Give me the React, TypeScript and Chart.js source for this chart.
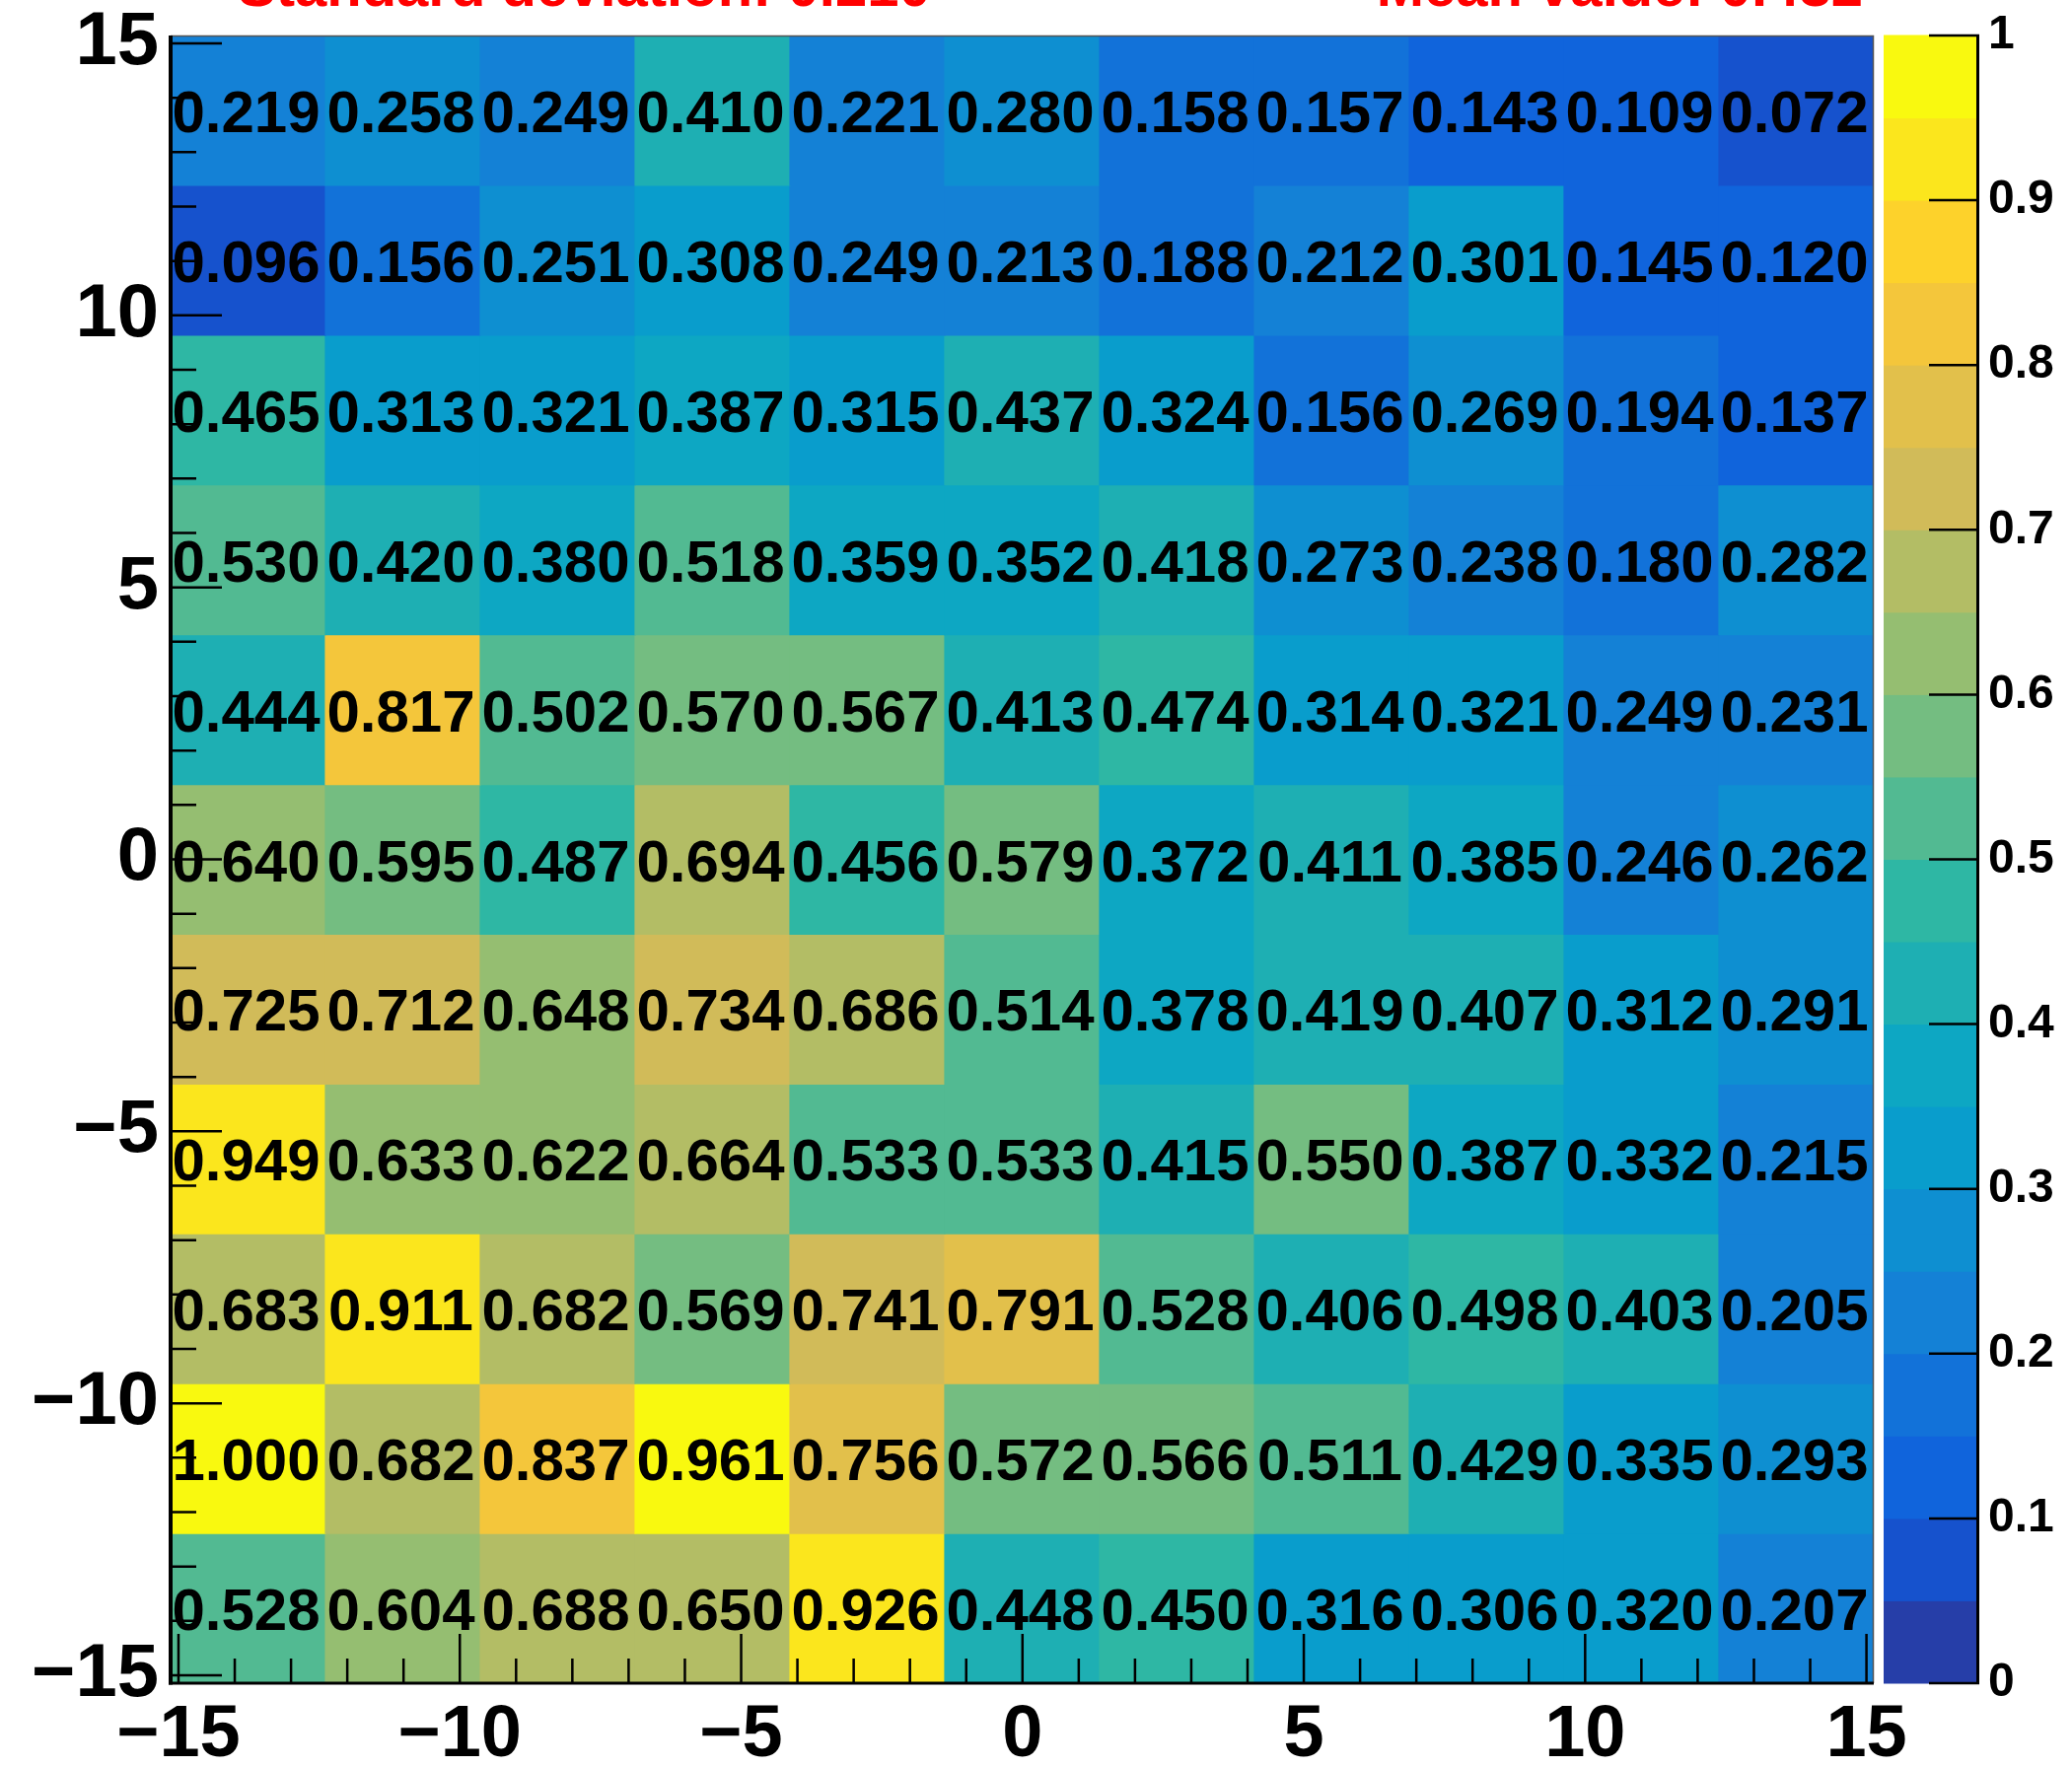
import React, { useEffect, useRef } from 'react';
import { Chart, registerables } from 'chart.js';

Chart.register(...registerables);

// ---------- data ----------
// histogram bin edges (11 bins from -15 to 15) and centres
const binEdges = [-15, -12.2727, -9.5455, -6.8182, -4.0909, -1.3636, 1.3636, 4.0909, 6.8182, 9.5455, 12.2727, 15];
const binCenters = [-13.6364, -10.9091, -8.1818, -5.4545, -2.7273, 0, 2.7273, 5.4545, 8.1818, 10.9091, 13.6364];

// cell values, one array per y bin (top row first)
const yBin10 = [0.219, 0.258, 0.249, 0.410, 0.221, 0.280, 0.158, 0.157, 0.143, 0.109, 0.072];
const yBin9 = [0.096, 0.156, 0.251, 0.308, 0.249, 0.213, 0.188, 0.212, 0.301, 0.145, 0.120];
const yBin8 = [0.465, 0.313, 0.321, 0.387, 0.315, 0.437, 0.324, 0.156, 0.269, 0.194, 0.137];
const yBin7 = [0.530, 0.420, 0.380, 0.518, 0.359, 0.352, 0.418, 0.273, 0.238, 0.180, 0.282];
const yBin6 = [0.444, 0.817, 0.502, 0.570, 0.567, 0.413, 0.474, 0.314, 0.321, 0.249, 0.231];
const yBin5 = [0.640, 0.595, 0.487, 0.694, 0.456, 0.579, 0.372, 0.411, 0.385, 0.246, 0.262];
const yBin4 = [0.725, 0.712, 0.648, 0.734, 0.686, 0.514, 0.378, 0.419, 0.407, 0.312, 0.291];
const yBin3 = [0.949, 0.633, 0.622, 0.664, 0.533, 0.533, 0.415, 0.550, 0.387, 0.332, 0.215];
const yBin2 = [0.683, 0.911, 0.682, 0.569, 0.741, 0.791, 0.528, 0.406, 0.498, 0.403, 0.205];
const yBin1 = [1.000, 0.682, 0.837, 0.961, 0.756, 0.572, 0.566, 0.511, 0.429, 0.335, 0.293];
const yBin0 = [0.528, 0.604, 0.688, 0.650, 0.926, 0.448, 0.450, 0.316, 0.306, 0.320, 0.207];
const zRows = [yBin10, yBin9, yBin8, yBin7, yBin6, yBin5, yBin4, yBin3, yBin2, yBin1, yBin0];

const axisTicks = [-15, -10, -5, 0, 5, 10, 15];
const minorAxisTicks = [-15, -14, -13, -12, -11, -10, -9, -8, -7, -6, -5, -4, -3, -2, -1, 0, 1, 2, 3, 4, 5, 6, 7, 8, 9, 10, 11, 12, 13, 14, 15];
const colorTicks = [0, 0.1, 0.2, 0.3, 0.4, 0.5, 0.6, 0.7, 0.8, 0.9, 1];
const contourLevels = [0, 0.05, 0.1, 0.15, 0.2, 0.25, 0.3, 0.35, 0.4, 0.45, 0.5, 0.55, 0.6, 0.65, 0.7, 0.75, 0.8, 0.85, 0.9, 0.95, 1];

const titleLeft = 'Standard deviation: 0.210';
const titleRight = 'Mean value: 0.432';

// ROOT kBird palette definition
const birdStops = [0.0, 0.125, 0.25, 0.375, 0.5, 0.625, 0.75, 0.875, 1.0];
const birdRed = [0.2082, 0.0592, 0.078, 0.0232, 0.1802, 0.5301, 0.8186, 0.9956, 0.9764];
const birdGreen = [0.1664, 0.3599, 0.5041, 0.6419, 0.7178, 0.7492, 0.7328, 0.7862, 0.9832];
const birdBlue = [0.5293, 0.8684, 0.8385, 0.7914, 0.6425, 0.4662, 0.3499, 0.1968, 0.0539];

const FONT = '"Liberation Sans", Arial, Helvetica, sans-serif';

function buildPalette(): string[] {
  const out: string[] = [];
  for (let g = 1; g < birdStops.length; g++) {
    const n = Math.floor(255 * birdStops[g]) - Math.floor(255 * birdStops[g - 1]);
    for (let c = 0; c < n; c++) {
      const r = birdRed[g - 1] + (c * (birdRed[g] - birdRed[g - 1])) / n;
      const gg = birdGreen[g - 1] + (c * (birdGreen[g] - birdGreen[g - 1])) / n;
      const b = birdBlue[g - 1] + (c * (birdBlue[g] - birdBlue[g - 1])) / n;
      out.push(`rgb(${Math.round(r * 255)},${Math.round(gg * 255)},${Math.round(b * 255)})`);
    }
  }
  return out;
}
const palette = buildPalette();
const nLevels = contourLevels.length - 1;
const levelColor = (i: number) => palette[Math.min(palette.length - 1, Math.floor(((i + 0.99) * palette.length) / nLevels))];
const zMin = contourLevels[0];
const zMax = contourLevels[contourLevels.length - 1];
const valueColor = (v: number) => {
  let i = Math.floor(((v - zMin) / (zMax - zMin)) * nLevels + 1e-9);
  i = Math.max(0, Math.min(nLevels - 1, i));
  return levelColor(i);
};

const fmtAxis = (v: number) => (v < 0 ? '\u2212' + Math.abs(v) : String(v));

const decorPlugin = {
  id: 'histDecor',
  afterDatasetsDraw(chart: any) {
    const ctx = chart.ctx as CanvasRenderingContext2D;
    const area = chart.chartArea;
    const xt = chart.scales.xt;
    const yt = chart.scales.yt;
    const z = chart.scales.z;
    ctx.save();

    // cell texts
    ctx.fillStyle = '#000';
    ctx.font = `bold 60px ${FONT}`;
    ctx.textAlign = 'center';
    ctx.textBaseline = 'alphabetic';
    zRows.forEach((row, r) => {
      const meta = chart.getDatasetMeta(r);
      row.forEach((v, c) => {
        const el = meta.data[c];
        if (!el) return;
        const p = el.getProps(['x', 'y', 'base'], true);
        const cy = (p.y + p.base) / 2;
        ctx.fillText(v.toFixed(3), p.x - 2, cy + 22);
      });
    });

    // frame: thin top/right
    ctx.strokeStyle = '#555';
    ctx.lineWidth = 1.5;
    ctx.beginPath();
    ctx.moveTo(area.left, area.top + 0.5);
    ctx.lineTo(area.right - 0.5, area.top + 0.5);
    ctx.lineTo(area.right - 0.5, area.bottom);
    ctx.stroke();

    // axis lines
    ctx.strokeStyle = '#000';
    ctx.lineWidth = 4;
    ctx.beginPath();
    ctx.moveTo(area.left, area.top);
    ctx.lineTo(area.left, area.bottom + 1.5);
    ctx.stroke();
    ctx.lineWidth = 3;
    ctx.beginPath();
    ctx.moveTo(area.left - 2, area.bottom);
    ctx.lineTo(area.right, area.bottom);
    ctx.stroke();

    // ticks
    ctx.lineWidth = 2.5;
    ctx.beginPath();
    minorAxisTicks.forEach((v) => {
      const major = axisTicks.includes(v);
      const px = xt.getPixelForValue(v);
      ctx.moveTo(px, area.bottom);
      ctx.lineTo(px, area.bottom - (major ? 50 : 25));
      const py = yt.getPixelForValue(v);
      ctx.moveTo(area.left, py);
      ctx.lineTo(area.left + (major ? 52 : 26), py);
    });
    ctx.stroke();

    // colour bar
    const x0 = z.left + 10;
    const x1 = z.left + 107;
    for (let i = 0; i < nLevels; i++) {
      const yLo = z.getPixelForValue(contourLevels[i]);
      const yHi = z.getPixelForValue(contourLevels[i + 1]);
      ctx.fillStyle = levelColor(i);
      ctx.fillRect(x0, yHi - 0.5, x1 - x0, yLo - yHi + 1);
    }
    ctx.strokeStyle = '#000';
    ctx.lineWidth = 3;
    ctx.beginPath();
    ctx.moveTo(x1 - 1.5, z.top);
    ctx.lineTo(x1 - 1.5, z.bottom);
    ctx.stroke();
    ctx.lineWidth = 2.5;
    ctx.beginPath();
    colorTicks.forEach((v) => {
      const py = z.getPixelForValue(v);
      ctx.moveTo(x1 - 51, py);
      ctx.lineTo(x1, py);
    });
    ctx.stroke();

    ctx.restore();
  },
  afterDraw(chart: any) {
    const ctx = chart.ctx as CanvasRenderingContext2D;
    ctx.save();
    ctx.fillStyle = '#ff0000';
    ctx.font = `bold 58px ${FONT}`;
    ctx.textBaseline = 'alphabetic';
    ctx.textAlign = 'left';
    ctx.fillText(titleLeft, 241, 6);
    ctx.textAlign = 'right';
    ctx.fillText(titleRight, 1889, 6);
    ctx.restore();
  },
};

export default function App() {
  const canvasRef = useRef<HTMLCanvasElement | null>(null);

  useEffect(() => {
    if (!canvasRef.current) return;
    const datasets = zRows.map((row, r) => ({
      type: 'bar' as const,
      label: `row ${r}`,
      data: row.map((_v, c) => ({ x: binCenters[c], y: [binEdges[10 - r], binEdges[11 - r]] })),
      backgroundColor: row.map((v) => valueColor(v)),
      borderWidth: 0,
      grouped: false,
      barPercentage: 1,
      categoryPercentage: 1,
      inflateAmount: 0.6,
      xAxisID: 'x',
      yAxisID: 'y',
    }));

    const chart = new Chart(canvasRef.current, {
      type: 'bar',
      data: { datasets: datasets as any },
      plugins: [decorPlugin as any],
      options: {
        responsive: false,
        animation: false,
        devicePixelRatio: 1,
        events: [],
        layout: { padding: { top: 36, left: 0, right: 0, bottom: 0 } },
        plugins: {
          legend: { display: false },
          tooltip: { enabled: false },
          title: { display: false },
        },
        scales: {
          x: {
            type: 'linear',
            min: binEdges[0],
            max: binEdges[binEdges.length - 1],
            display: false,
            offset: false,
            afterBuildTicks: (s: any) => {
              s.ticks = [{ value: binEdges[0] }, { value: binEdges[binEdges.length - 1] }];
            },
          },
          y: {
            type: 'linear',
            min: binEdges[0],
            max: binEdges[binEdges.length - 1],
            display: false,
            beginAtZero: false,
          },
          xt: {
            type: 'linear',
            axis: 'x',
            position: 'bottom',
            min: -15.14,
            max: 15.13,
            offset: false,
            grid: { display: false, drawTicks: false },
            border: { display: false },
            afterBuildTicks: (s: any) => {
              s.ticks = axisTicks.map((v) => ({ value: v }));
            },
            afterFit: (s: any) => {
              s.height = 85;
              s.paddingLeft = 0;
              s.paddingRight = 0;
            },
            ticks: {
              autoSkip: false,
              maxRotation: 0,
              minRotation: 0,
              padding: 9,
              color: '#000',
              font: { family: FONT, size: 74, weight: 'bold' },
              callback: (v: any) => fmtAxis(Number(v)),
            },
          },
          yt: {
            type: 'linear',
            axis: 'y',
            position: 'left',
            min: -15.145,
            max: 15.145,
            grid: { display: false, drawTicks: false },
            border: { display: false },
            afterBuildTicks: (s: any) => {
              s.ticks = axisTicks.map((v) => ({ value: v }));
            },
            afterFit: (s: any) => {
              s.width = 173;
              s.paddingTop = 0;
              s.paddingBottom = 0;
            },
            ticks: {
              autoSkip: false,
              padding: 12,
              color: '#000',
              font: { family: FONT, size: 76, weight: 'bold' },
              callback: (v: any) => fmtAxis(Number(v)),
            },
          },
          z: {
            type: 'linear',
            axis: 'y',
            position: 'right',
            min: zMin,
            max: zMax,
            grid: { display: false, drawTicks: false },
            border: { display: false },
            afterBuildTicks: (s: any) => {
              s.ticks = colorTicks.map((v) => ({ value: v }));
            },
            afterFit: (s: any) => {
              s.width = 201;
              s.paddingTop = 0;
              s.paddingBottom = 0;
            },
            ticks: {
              autoSkip: false,
              padding: 116,
              color: '#000',
              font: { family: FONT, size: 48, weight: 'bold' },
              callback: (v: any) => String(Math.round(Number(v) * 10) / 10),
            },
          },
        } as any,
      },
    });
    return () => chart.destroy();
  }, []);

  return (
    <div style={{ position: 'absolute', left: 0, top: 0, width: 2101, height: 1792, background: '#fff' }}>
      <canvas ref={canvasRef} width={2101} height={1792} style={{ display: 'block' }} />
    </div>
  );
}
